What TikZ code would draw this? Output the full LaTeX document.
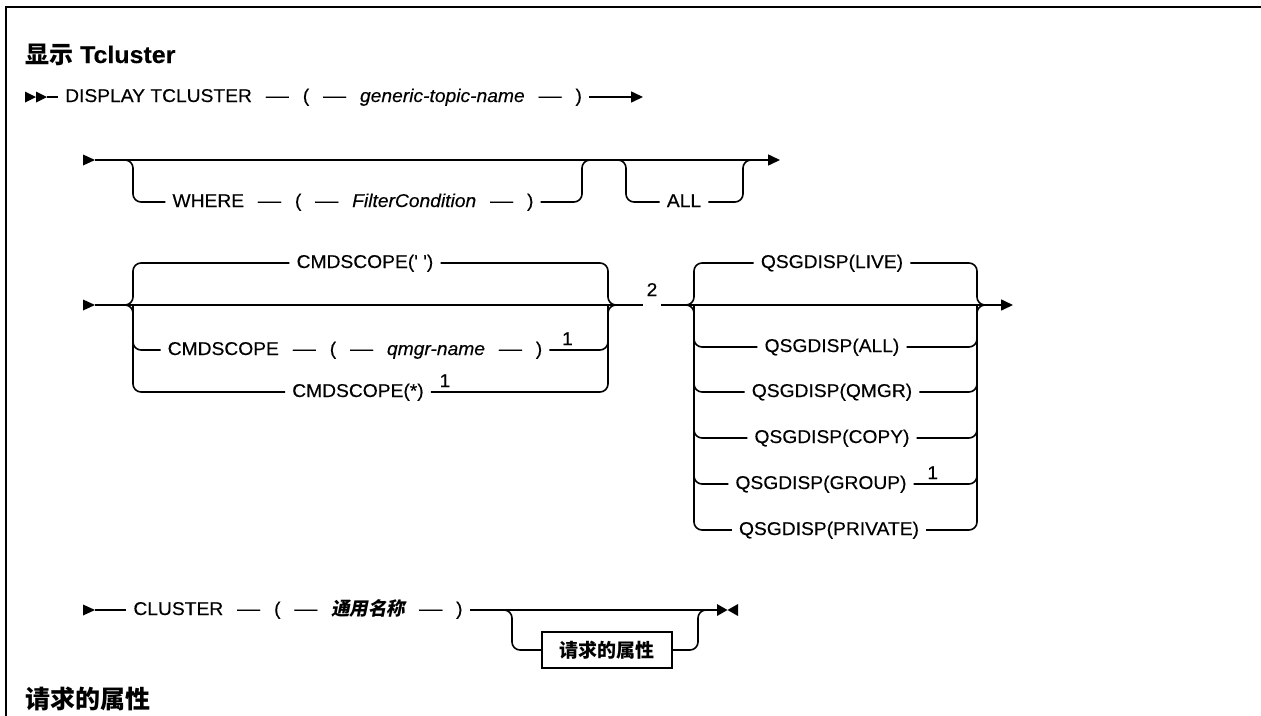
\documentclass[tikz,border=0pt]{standalone}
\usepackage{fontspec}
\usepackage{graphicx}
\usetikzlibrary{arrows.meta}
\setmainfont{Liberation Sans}[Ligatures=TeXOff, FakeStretch=1.04, FakeBold=0.3]
\newfontfamily\cjk{Noto Sans CJK SC}
\newfontfamily\cjkit{Noto Sans CJK SC}[FakeSlant=0.2]
\newcommand\rdash{\hspace{0.75em}\scalebox{1.2}[1]{—}\hspace{0.75em}}
\begin{document}
\begin{tikzpicture}[x=1pt,y=-1pt,
  rail/.style={line width=1.6pt, rounded corners=8pt},
  tok/.style={inner xsep=7pt, inner ysep=0pt, text height=10pt, text depth=0pt, font=\fontsize{18.5}{21}\selectfont},
  sup/.style={inner sep=0pt, anchor=base, font=\fontsize{18.5}{21}\selectfont},
  arr/.style={-{Triangle[length=12pt,width=11pt]}},
  box/.style={draw, line width=1.6pt, minimum width=130pt, minimum height=36pt, inner sep=0pt, font=\cjk\bfseries\fontsize{19}{22}\selectfont}
]
\useasboundingbox (0,0) rectangle (1261,715);
% frame
\draw[line width=2.4pt] (6,716) -- (6,7) -- (1262,7);
% headings
\node[anchor=base west, inner sep=0pt, font=\fontsize{24}{28}\selectfont\bfseries] (title) at (25,63) {{\cjk 显示} Tcluster};
\node[anchor=base west, inner sep=0pt, font=\cjk\bfseries\fontsize{25}{28}\selectfont] (attrh) at (25,708) {请求的属性};

% ---------- row 1
\coordinate (m1) at (25,97);
\coordinate (m1e) at (47,97);
\fill (m1) ++(0,-5.5) -- ++(11,5.5) -- ++(-11,5.5) -- cycle;
\fill (m1) ++(11,-5.5) -- ++(11,5.5) -- ++(-11,5.5) -- cycle;
\node[tok, anchor=west] (r1) at (58,97) {DISPLAY TCLUSTER\rdash(\rdash\textit{generic-topic-name}\rdash)};
\coordinate (r1end) at (643,97);
\draw[rail] (m1e) -- (r1.west);
\draw[rail, arr] (r1.east) -- (r1end);

% ---------- row 2
\coordinate (m2) at (83,160);
\coordinate (m2e) at (95,160);
\coordinate (r2end) at (780,160);
\fill (m2) ++(0,-5.5) -- ++(12,5.5) -- ++(-12,5.5) -- cycle;
\draw[rail, arr] (m2e) -- (r2end);
\node[tok] (where) at (353,202) {WHERE\rdash(\rdash\textit{FilterCondition}\rdash)};
\node[tok] (all) at (684,202) {ALL};
\coordinate (wL) at (133,160);
\coordinate (wR) at (582,160);
\coordinate (aL) at (626,160);
\coordinate (aR) at (743,160);
\draw[rail] (where.west) -| (wL) -- ++(-12,0);
\draw[rail] (where.east) -| (wR) -- ++(12,0);
\draw[rail] (all.west) -| (aL) -- ++(-12,0);
\draw[rail] (all.east) -| (aR) -- ++(12,0);

% ---------- row 3
\coordinate (m3) at (83,305);
\coordinate (m3e) at (95,305);
\fill (m3) ++(0,-5.5) -- ++(12,5.5) -- ++(-12,5.5) -- cycle;
\node[sup] (n2) at (652,296) {2};
\coordinate (g2a) at (643,305);
\coordinate (g2b) at (661,305);
\coordinate (r3end) at (1013,305);
\draw[rail] (m3e) -- (g2a);
\draw[rail, arr] (g2b) -- (r3end);
% CMDSCOPE group
\coordinate (cL) at (133,305);
\coordinate (cR) at (608,305);
\node[tok] (ctop) at (365,263) {CMDSCOPE(' ')};
\node[tok] (cq) at (355,350) {CMDSCOPE\rdash(\rdash\textit{qmgr-name}\rdash)};
\node[tok] (cs) at (358,392) {CMDSCOPE(*)};
\node[sup] (cq1) at ([xshift=18pt, yshift=5pt]cq.east) {1};
\node[sup] (cs1) at ([xshift=14pt, yshift=5pt]cs.east) {1};
\draw[rail] (ctop.west) -| (cL) -- ++(-12,0);
\draw[rail] (cq.west) -| (cL);
\draw[rail] (cs.west) -| (cL) -- ++(-12,0);
\draw[rail] (ctop.east) -| (cR) -- ++(12,0);
\draw[rail] (cq.east) -| (cR);
\draw[rail] (cs.east) -| (cR) -- ++(12,0);
% QSGDISP group
\coordinate (qL) at (694,305);
\coordinate (qR) at (977,305);
\node[tok] (qlive) at (832,263) {QSGDISP(LIVE)};
\node[tok] (qall) at (832,347) {QSGDISP(ALL)};
\node[tok] (qqmgr) at (832,392) {QSGDISP(QMGR)};
\node[tok] (qcopy) at (832,438) {QSGDISP(COPY)};
\node[tok] (qgrp) at (821,484) {QSGDISP(GROUP)};
\node[tok] (qpriv) at (829,530) {QSGDISP(PRIVATE)};
\node[sup] (qg1) at ([xshift=19pt, yshift=5pt]qgrp.east) {1};
\draw[rail] (qlive.west) -| (qL) -- ++(-12,0);
\draw[rail] (qall.west) -| (qL);
\draw[rail] (qqmgr.west) -| (qL);
\draw[rail] (qcopy.west) -| (qL);
\draw[rail] (qgrp.west) -| (qL);
\draw[rail] (qpriv.west) -| (qL) -- ++(-12,0);
\draw[rail] (qlive.east) -| (qR) -- ++(12,0);
\draw[rail] (qall.east) -| (qR);
\draw[rail] (qqmgr.east) -| (qR);
\draw[rail] (qcopy.east) -| (qR);
\draw[rail] (qgrp.east) -| (qR);
\draw[rail] (qpriv.east) -| (qR) -- ++(12,0);

% ---------- row 4
\coordinate (m4) at (83,610);
\coordinate (m4e) at (95,610);
\fill (m4) ++(0,-5.5) -- ++(12,5.5) -- ++(-12,5.5) -- cycle;
\node[tok] (cl) at (298,610) {CLUSTER\rdash(\rdash{\cjkit\bfseries 通用名称}\rdash)};
\coordinate (endm) at (717,610);
\draw[rail] (m4e) -- (cl.west);
\draw[rail] (cl.east) -- (endm);
\fill (endm) ++(0,-6) -- ++(10.5,6) -- ++(-10.5,6) -- cycle;
\fill (endm) ++(21,-6) -- ++(-10.5,6) -- ++(10.5,6) -- cycle;
\coordinate (bL) at (512,610);
\coordinate (bR) at (698,610);
\node[box] (attr) at (607,650) {请求的属性};
\draw[rail] (attr.west) -| (bL) -- ++(-12,0);
\draw[rail] (attr.east) -| (bR) -- ++(12,0);
\end{tikzpicture}
\end{document}
